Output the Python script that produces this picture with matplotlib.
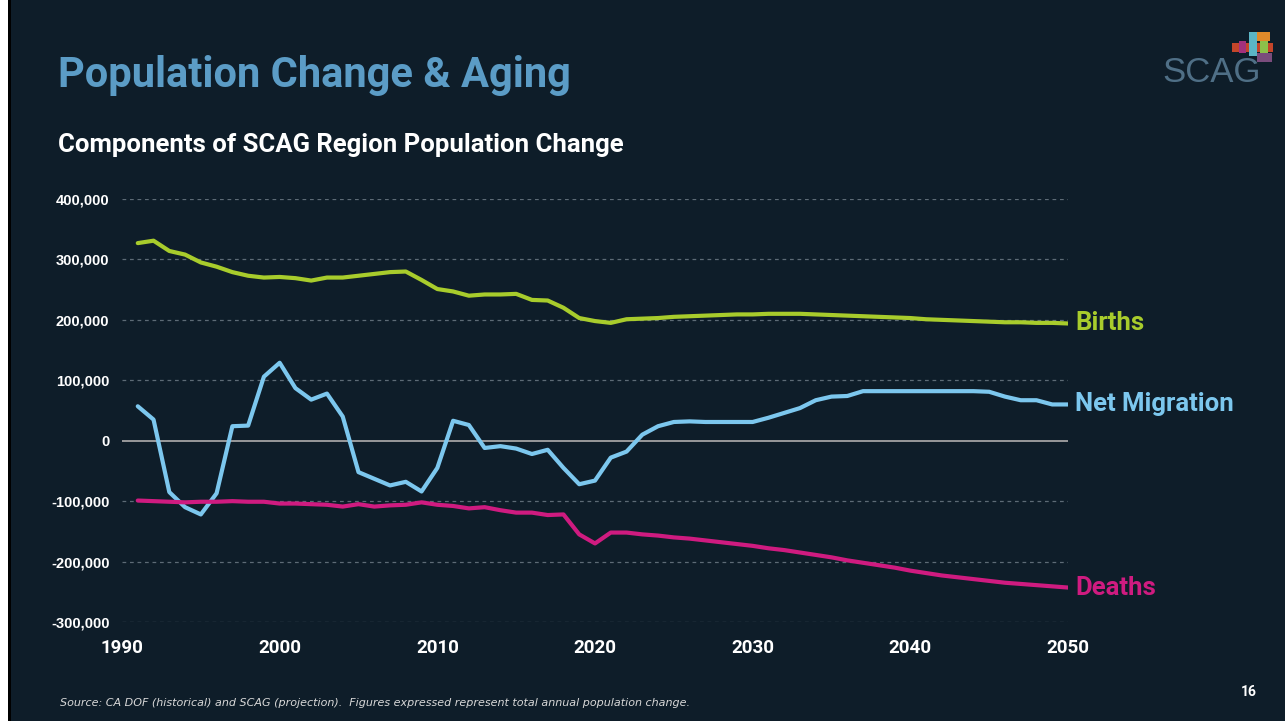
"""Components of SCAG region population change, 1991-2050."""
import matplotlib.pyplot as plt
import matplotlib.patches as mpatches
import matplotlib.ticker as tkr

plt.rcParams['font.family'] = ['Roboto', 'DejaVu Sans']

bg = "#0e1d29"
c_births = "#a8cc2c"
c_migr = "#7cc7ee"
c_deaths = "#cf1b80"
c_title = "#5b9cc6"
c_grid = "#5d6b76"

years = list(range(1991, 2051))

# thousands of persons per year
births = [327, 331, 314, 308, 295, 288, 279, 273, 270, 271,
          269, 265, 270, 270, 273, 276, 279, 280, 266, 251,
          247, 240, 242, 242, 243, 233, 232, 220, 203, 198,
          195, 201, 202, 203, 205, 206, 207, 208, 209, 209,
          210, 210, 210, 209, 208, 207, 206, 205, 204, 203,
          201, 200, 199, 198, 197, 196, 196, 195, 195, 194]
net_migration = [57, 35, -85, -110, -122, -87, 24, 25, 106, 129,
                 87, 68, 78, 40, -52, -63, -74, -68, -84, -45,
                 33, 26, -12, -9, -13, -22, -15, -45, -72, -66,
                 -28, -18, 10, 24, 31, 32, 31, 31, 31, 31,
                 38, 46, 54, 67, 73, 74, 82, 82, 82, 82,
                 82, 82, 82, 82, 81, 73, 67, 67, 60, 60]
deaths = [-99, -100, -101, -102, -101, -101, -100, -101, -101, -104,
          -104, -105, -106, -109, -105, -109, -107, -106, -102, -106,
          -108, -112, -110, -115, -119, -119, -123, -122, -155, -170,
          -152, -152, -155, -157, -160, -162, -165, -168, -171, -174,
          -178, -181, -185, -189, -193, -198, -202, -206, -210, -215,
          -219, -223, -226, -229, -232, -235, -237, -239, -241, -243]

series = [("Births", births, c_births),
          ("Net Migration", net_migration, c_migr),
          ("Deaths", deaths, c_deaths)]

x_ticks = [1990, 2000, 2010, 2020, 2030, 2040, 2050]
y_ticks = [-300000, -200000, -100000, 0, 100000, 200000, 300000, 400000]

fig = plt.figure(figsize=(12.85, 7.21), dpi=100, facecolor=bg)

# white margin + dark frame edge like the slide capture
fig.patches.append(mpatches.Rectangle((0, 0), 8 / 1285, 1, transform=fig.transFigure,
                                      facecolor="white", edgecolor="none", zorder=0))
fig.patches.append(mpatches.Rectangle((8 / 1285, 0), 3 / 1285, 1, transform=fig.transFigure,
                                      facecolor="black", edgecolor="none", zorder=0))

ax = fig.add_axes([122 / 1285, 1 - 622 / 721, (1068 - 122) / 1285, (622 - 199) / 721])
ax.set_facecolor(bg)

for name, vals, col in series:
    yv = [v * 1000 for v in vals]
    ax.plot(years, yv, color=col, linewidth=3, solid_capstyle="round",
            solid_joinstyle="round", zorder=3)
    ax.annotate(name, xy=(years[-1], yv[-1]), xytext=(5, 0),
                textcoords="offset points", va="center", ha="left",
                color=col, fontsize=18.5, fontweight="bold",
                annotation_clip=False)

for t in y_ticks:
    if t == 0:
        ax.axhline(t, color="#a3a3a3", linewidth=1.3, zorder=1)
    else:
        ax.axhline(t, color=c_grid, linewidth=0.9, linestyle=(0, (3, 3)), zorder=1)

ax.set_xlim(1990, 2050)
ax.set_ylim(-300000, 400000)
ax.set_xticks(x_ticks)
ax.set_yticks(y_ticks)
ax.yaxis.set_major_formatter(tkr.FuncFormatter(lambda v, pos: '{:,d}'.format(int(v))))
for s in ax.spines.values():
    s.set_visible(False)
ax.tick_params(axis='both', length=0, colors="white")
ax.tick_params(axis='x', pad=12, labelsize=13.5)
ax.tick_params(axis='y', pad=9, labelsize=10.5)
for lab in ax.get_xticklabels():
    lab.set_fontweight("bold")
for lab in ax.get_yticklabels():
    lab.set_fontweight("bold")
    lab.set_family(["Liberation Sans", "DejaVu Sans"])

fig.text(58 / 1285, 1 - 75 / 721, "Population Change & Aging", color=c_title,
         fontsize=30, fontweight="bold", va="center", ha="left")
fig.text(58 / 1285, 1 - 145 / 721, "Components of SCAG Region Population Change",
         color="white", fontsize=18.5, fontweight="bold", va="center", ha="left")
fig.text(60 / 1285, 1 - 703 / 721,
         "Source: CA DOF (historical) and SCAG (projection).  Figures expressed represent total annual population change.",
         color="#d8d8d8", fontsize=8, style="italic", va="center", ha="left",
         family=["DejaVu Sans"])
fig.text(1249 / 1285, 1 - 692 / 721, "16", color="white", fontsize=10,
         fontweight="bold", va="center", ha="center")

# SCAG logo
fig.text(1162 / 1285, 1 - 73 / 721, "SCAG", color="#4f6f86", fontsize=25,
         va="center", ha="left", family=["Liberation Sans", "DejaVu Sans"])
logo = [((1232, 43), 41, 9, "#c4452a"),
        ((1239, 41), 7, 12, "#a3307c"),
        ((1249, 32), 8, 24, "#5bb6c6"),
        ((1257, 32), 13, 9, "#e08a2a"),
        ((1260, 41), 8, 12, "#8cc04a"),
        ((1257, 53), 15, 9, "#7a4c7c")]
for (px, py), w, h, col in logo:
    fig.patches.append(mpatches.Rectangle((px / 1285, 1 - (py + h) / 721), w / 1285, h / 721,
                                          transform=fig.transFigure, facecolor=col,
                                          edgecolor="none", zorder=2))

fig.savefig("out.png", dpi=100, facecolor=bg)
